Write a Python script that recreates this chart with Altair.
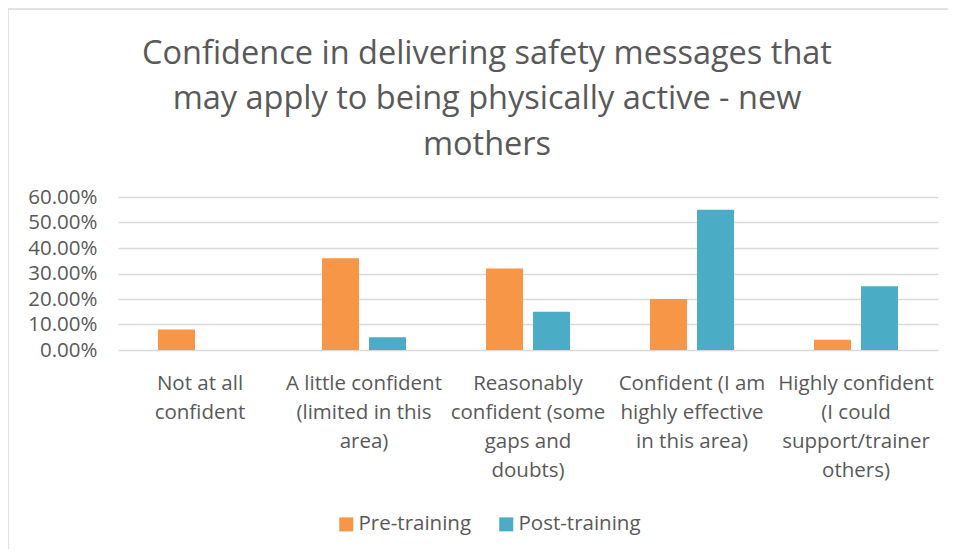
import altair as alt
import pandas as pd

categories = [
    "Not at all\nconfident",
    "A little confident\n(limited in this\narea)",
    "Reasonably\nconfident (some\ngaps and\ndoubts)",
    "Confident (I am\nhighly effective\nin this area)",
    "Highly confident\n(I could\nsupport/trainer\nothers)",
]
series = ["Pre-training", "Post-training"]
pre_training = [0.08, 0.36, 0.32, 0.20, 0.04]
post_training = [0.00, 0.05, 0.15, 0.55, 0.25]
title_lines = [
    "Confidence in delivering safety messages that",
    "may apply to being physically active - new",
    "mothers",
]
colors = ["#F79646", "#4BACC6"]

rows = []
for c, a, b in zip(categories, pre_training, post_training):
    rows.append({"category": c, "series": series[0], "value": a})
    rows.append({"category": c, "series": series[1], "value": b})
df = pd.DataFrame(rows)

FONT = "Open Sans"
GREY = "#595959"

bars = alt.Chart(df).mark_bar().encode(
    x=alt.X(
        "category:N",
        sort=categories,
        scale=alt.Scale(paddingInner=0, paddingOuter=0),
        axis=alt.Axis(
            title=None,
            labelAngle=0,
            labelExpr="split(datum.label, '\\n')",
            labelFont=FONT,
            labelFontSize=20.5,
            labelColor=GREY,
            labelLineHeight=29,
            labelPadding=23,
            labelBaseline="top",
            domain=False,
            ticks=False,
            grid=False,
            labelLimit=200,
        ),
    ),
    xOffset=alt.XOffset(
        "series:N",
        sort=series,
        scale=alt.Scale(paddingInner=0.2128, paddingOuter=0.851),
    ),
    y=alt.Y(
        "value:Q",
        scale=alt.Scale(domain=[0, 0.6]),
        axis=alt.Axis(
            title=None,
            format=".2%",
            values=[0, 0.1, 0.2, 0.3, 0.4, 0.5, 0.6],
            labelFont=FONT,
            labelFontSize=20.5,
            labelColor=GREY,
            labelPadding=21,
            domain=False,
            ticks=False,
            gridColor="#D9D9D9",
            gridWidth=1.5,
        ),
    ),
    color=alt.Color(
        "series:N",
        sort=series,
        scale=alt.Scale(domain=series, range=colors),
        legend=alt.Legend(
            title=None,
            orient="none",
            direction="horizontal",
            legendX=218,
            legendY=317,
            symbolType="square",
            symbolSize=196,
            symbolStrokeWidth=0,
            labelFont=FONT,
            labelFontSize=20.5,
            labelColor=GREY,
            columnPadding=24,
            labelOffset=2,
        ),
    ),
)

top_line = alt.Chart(pd.DataFrame({"k": ["top"]})).mark_rule(color="#D9D9D9", strokeWidth=1.5).encode(
    x=alt.value(-110), x2=alt.value(846), y=alt.value(-188)
)
left_line = alt.Chart(pd.DataFrame({"k": ["left"]})).mark_rule(color="#D9D9D9", strokeWidth=1.5).encode(
    x=alt.value(-110), y=alt.value(-188), y2=alt.value(360)
)

chart = alt.layer(bars, top_line, left_line).properties(
    width=820,
    height=153,
    autosize=alt.AutoSizeParams(type="none"),
    padding={"left": 110, "top": 189, "right": 10, "bottom": 199},
    title=alt.Title(
        title_lines,
        font=FONT,
        fontSize=32.5,
        fontWeight="normal",
        color=GREY,
        anchor="middle",
        dx=-41,
        lineHeight=45.5,
        offset=0,
        dy=153,
    ),
).configure_view(stroke=None)

chart.save("out.html", embed_options={"renderer": "svg", "actions": False})
